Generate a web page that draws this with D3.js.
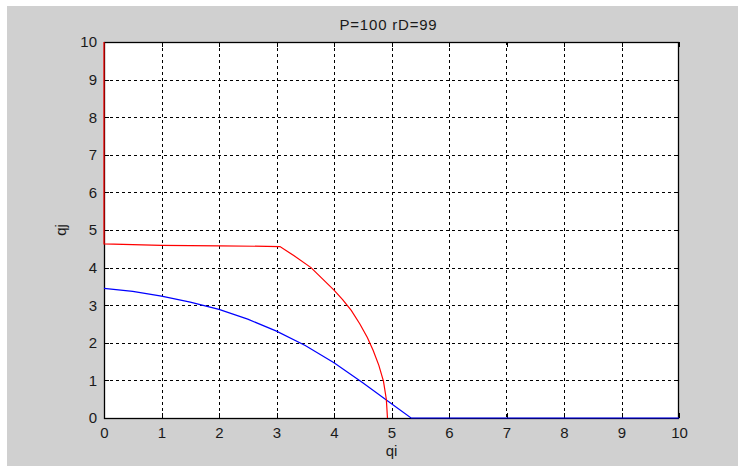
<!DOCTYPE html>
<html><head><meta charset="utf-8">
<script src="https://cdn.jsdelivr.net/npm/d3@7"></script>
<style>body{margin:0;background:#fff}svg{display:block}text{font-family:"Liberation Sans",Arial,sans-serif;fill:#1a1a1a}</style>
</head><body><svg id="c" width="738" height="466"></svg>
<script>
const title = "P=100 rD=99";
const xLabel = "qi", yLabel = "qj";
const xTicks = [0,1,2,3,4,5,6,7,8,9,10];
const yTicks = [0,1,2,3,4,5,6,7,8,9,10];
const redX = [0, 0, 1, 2, 3.06, 3.3, 3.6, 4.0, 4.15, 4.3, 4.45, 4.58, 4.68, 4.78, 4.86, 4.91, 4.93];
const redY = [10, 4.63, 4.59, 4.58, 4.56, 4.32, 4.0, 3.40, 3.15, 2.86, 2.50, 2.14, 1.80, 1.40, 0.98, 0.50, 0];
const blueX = [0, 0.5, 1, 1.5, 2, 2.5, 3, 3.5, 4, 4.5, 5, 5.34, 10];
const blueY = [3.45, 3.37, 3.24, 3.08, 2.89, 2.63, 2.31, 1.93, 1.47, 0.94, 0.38, 0, 0];

const svg = d3.select("#c");
svg.append("rect").attr("x",7).attr("y",6).attr("width",731).attr("height",460).attr("fill","#d0d0d0");
const L=104, R=679, T=42, B=418;
const x = d3.scaleLinear().domain([0,10]).range([L,R]);
const y = d3.scaleLinear().domain([0,10]).range([B,T]);
svg.append("rect").attr("x",L).attr("y",T).attr("width",R-L).attr("height",B-T).attr("fill","#fff");

// grid
const g = svg.append("g").attr("stroke","#000").attr("stroke-width",1).attr("stroke-dasharray","3,3").attr("shape-rendering","crispEdges");
xTicks.slice(1,-1).forEach(t=>g.append("line").attr("x1",Math.round(x(t))+0.5).attr("x2",Math.round(x(t))+0.5).attr("y1",T).attr("y2",B));
yTicks.slice(1,-1).forEach(t=>g.append("line").attr("y1",Math.round(y(t))+0.5).attr("y2",Math.round(y(t))+0.5).attr("x1",L).attr("x2",R));

// axes
const xb = d3.axisBottom(x).tickValues(xTicks).tickSize(-5).tickPadding(9).tickFormat(d3.format("d"));
const xt = d3.axisTop(x).tickValues(xTicks).tickSize(-5).tickFormat("");
const yl = d3.axisLeft(y).tickValues(yTicks).tickSize(-5).tickPadding(7).tickFormat(d3.format("d"));
const yr = d3.axisRight(y).tickValues(yTicks).tickSize(-5).tickFormat("");
function style(sel){sel.selectAll("path,line").attr("stroke","#000").attr("shape-rendering","crispEdges");sel.selectAll("text").attr("font-size",15).attr("font-family","Liberation Sans, Arial, sans-serif").attr("fill","#1a1a1a");}
svg.append("g").attr("transform",`translate(0,${B})`).call(xb).call(style).call(s=>s.select(".domain").remove());
svg.append("g").attr("transform",`translate(0,${T})`).call(xt).call(style).call(s=>s.select(".domain").remove());
svg.append("g").attr("transform",`translate(${L},0)`).call(yl).call(style).call(s=>s.select(".domain").remove());
svg.append("g").attr("transform",`translate(${R},0)`).call(yr).call(style).call(s=>s.select(".domain").remove());
svg.append("rect").attr("x",L+0.5).attr("y",T+0.5).attr("width",R-L-1).attr("height",B-T).attr("fill","none").attr("stroke","#000").attr("stroke-width",1.3);

// lines
const line = d3.line().x(d=>x(d[0])).y(d=>y(d[1]));
svg.append("path").datum(blueX.map((v,i)=>[v,blueY[i]])).attr("d",line).attr("fill","none").attr("stroke","#0000ff").attr("stroke-width",1.2);
svg.append("path").datum(redX.map((v,i)=>[v,redY[i]])).attr("d",line).attr("fill","none").attr("stroke","#ff0000").attr("stroke-width",1.2);

// labels
svg.append("text").attr("x",(L+R)/2-3).attr("y",30).attr("text-anchor","middle").attr("font-size",15).attr("letter-spacing","0.8px").text(title);
svg.append("text").attr("x",(L+R)/2).attr("y",456).attr("text-anchor","middle").attr("font-size",15).text(xLabel);
svg.append("text").attr("transform",`translate(66,${(T+B)/2}) rotate(-90)`).attr("text-anchor","middle").attr("font-size",15).text(yLabel);
</script></body></html>
